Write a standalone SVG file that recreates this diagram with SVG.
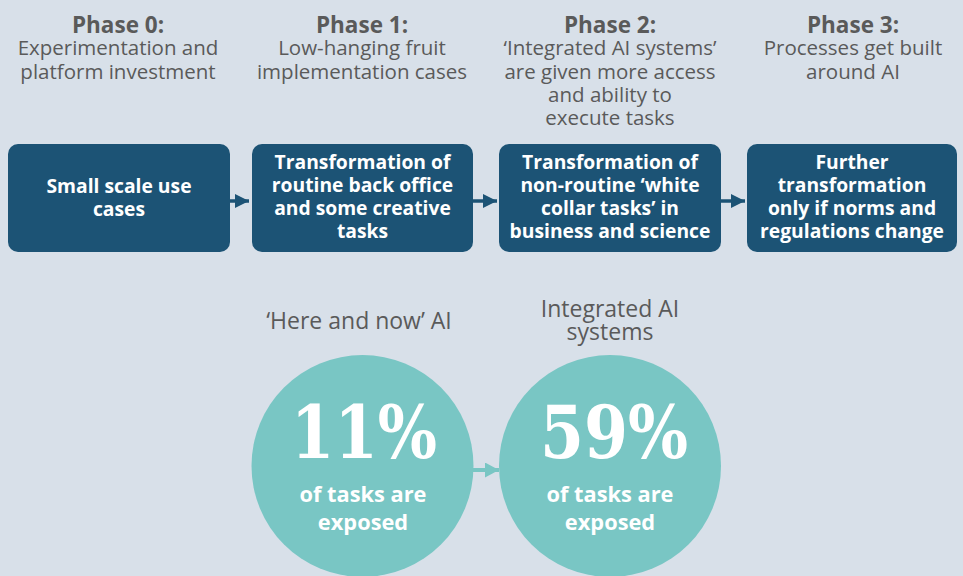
<svg xmlns="http://www.w3.org/2000/svg" width="963" height="576" viewBox="0 0 963 576">
  <defs>
    <style>
      .phase { font-family: "Open Sans", "Noto Sans", sans-serif; font-weight: 700; font-size: 22.5px; fill: #5a5a5a; text-anchor: middle; }
      .desc { font-family: "Open Sans", "Noto Sans", sans-serif; font-weight: 400; font-size: 20.5px; fill: #5a5a5a; text-anchor: middle; }
      .box { fill: #1c5375; }
      .boxtxt { font-family: "Open Sans", "Noto Sans", sans-serif; font-weight: 700; font-size: 19.3px; fill: #ffffff; text-anchor: middle; }
      .circ { fill: #79c6c4; }
      .big { font-family: "DejaVu Serif", "Liberation Serif", serif; font-weight: 700; font-size: 72px; fill: #ffffff; text-anchor: middle; }
      .ctxt { font-family: "Open Sans", "Noto Sans", sans-serif; font-weight: 700; font-size: 21.8px; fill: #ffffff; text-anchor: middle; }
      .label { font-family: "Open Sans", "Noto Sans", sans-serif; font-weight: 400; font-size: 23px; fill: #5a5a5a; text-anchor: middle; }
      .link { stroke: #1c5375; stroke-width: 3.5; fill: none; }
      .link2 { stroke: #79c6c4; stroke-width: 4; fill: none; }
    </style>
    <marker id="headDark" markerUnits="userSpaceOnUse" markerWidth="14" markerHeight="14" refX="14" refY="7" orient="auto">
      <path d="M0,0 L14,7 L0,14 Z" fill="#1c5375"/>
    </marker>
    <marker id="headTeal" markerUnits="userSpaceOnUse" markerWidth="14" markerHeight="15" refX="14" refY="7.5" orient="auto">
      <path d="M0,0 L14,7.5 L0,15 Z" fill="#79c6c4"/>
    </marker>
  </defs>

  <rect width="963" height="576" fill="#d8e0e9"/>

  <!-- phase headings -->
  <g id="phase0">
    <text class="phase" x="118" y="33">Phase 0:</text>
    <text class="desc" x="118" y="55">Experimentation and</text>
    <text class="desc" x="118" y="79">platform investment</text>
  </g>
  <g id="phase1">
    <text class="phase" x="362" y="33">Phase 1:</text>
    <text class="desc" x="362" y="55">Low-hanging fruit</text>
    <text class="desc" x="362" y="79">implementation cases</text>
  </g>
  <g id="phase2">
    <text class="phase" x="610" y="33">Phase 2:</text>
    <text class="desc" x="610" y="55">‘Integrated AI systems’</text>
    <text class="desc" x="610" y="79">are given more access</text>
    <text class="desc" x="610" y="102">and ability to</text>
    <text class="desc" x="610" y="125">execute tasks</text>
  </g>
  <g id="phase3">
    <text class="phase" x="853" y="33">Phase 3:</text>
    <text class="desc" x="853" y="55">Processes get built</text>
    <text class="desc" x="853" y="79">around AI</text>
  </g>

  <!-- stage boxes -->
  <g id="box0">
    <rect class="box" x="8" y="144" width="222" height="108" rx="10"/>
    <text class="boxtxt" x="119" y="193">Small scale use</text>
    <text class="boxtxt" x="119" y="216">cases</text>
  </g>
  <g id="box1">
    <rect class="box" x="252" y="144" width="221" height="108" rx="10"/>
    <text class="boxtxt" x="362.5" y="169">Transformation of</text>
    <text class="boxtxt" x="362.5" y="192">routine back office</text>
    <text class="boxtxt" x="362.5" y="215">and some creative</text>
    <text class="boxtxt" x="362.5" y="238">tasks</text>
  </g>
  <g id="box2">
    <rect class="box" x="499" y="144" width="222" height="108" rx="10"/>
    <text class="boxtxt" x="610" y="169">Transformation of</text>
    <text class="boxtxt" x="610" y="192">non-routine ‘white</text>
    <text class="boxtxt" x="610" y="215">collar tasks’ in</text>
    <text class="boxtxt" x="610" y="238">business and science</text>
  </g>
  <g id="box3">
    <rect class="box" x="747" y="144" width="210" height="108" rx="10"/>
    <text class="boxtxt" x="852" y="169">Further</text>
    <text class="boxtxt" x="852" y="192">transformation</text>
    <text class="boxtxt" x="852" y="215">only if norms and</text>
    <text class="boxtxt" x="852" y="238">regulations change</text>
  </g>

  <!-- exposure circles -->
  <g id="hereNow">
    <text class="label" x="359" y="329">‘Here and now’ AI</text>
    <circle class="circ" cx="362.5" cy="466" r="111"/>
    <text class="big" x="364" y="458" textLength="146" lengthAdjust="spacingAndGlyphs">11%</text>
    <text class="ctxt" x="363" y="502">of tasks are</text>
    <text class="ctxt" x="363" y="530">exposed</text>
  </g>
  <g id="integrated">
    <text class="label" x="610" y="317">Integrated AI</text>
    <text class="label" x="610" y="340">systems</text>
    <circle class="circ" cx="610" cy="466" r="111"/>
    <text class="big" x="614" y="458" textLength="148" lengthAdjust="spacingAndGlyphs">59%</text>
    <text class="ctxt" x="610" y="502">of tasks are</text>
    <text class="ctxt" x="610" y="530">exposed</text>
  </g>

  <!-- connectors -->
  <g id="connectors">
    <line class="link" x1="230" y1="201" x2="249" y2="201" marker-end="url(#headDark)"/>
    <line class="link" x1="473" y1="201" x2="497" y2="201" marker-end="url(#headDark)"/>
    <line class="link" x1="721" y1="201" x2="745" y2="201" marker-end="url(#headDark)"/>
    <line class="link2" x1="473" y1="470" x2="499" y2="470" marker-end="url(#headTeal)"/>
  </g>
</svg>
